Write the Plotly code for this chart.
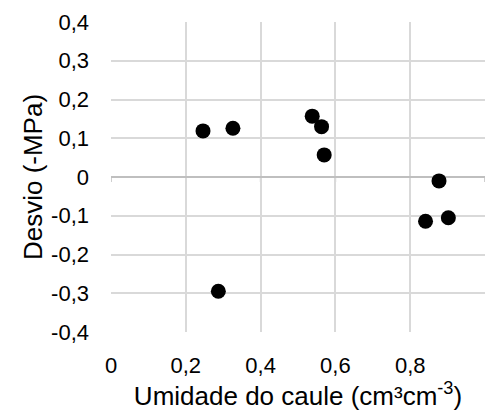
import plotly.graph_objects as go

# Data
umidade = [0.246, 0.287, 0.326, 0.538, 0.563, 0.570, 0.841, 0.877, 0.902]
desvio = [0.119, -0.295, 0.126, 0.157, 0.130, 0.057, -0.114, -0.010, -0.105]

x_tickvals = [0, 0.2, 0.4, 0.6, 0.8, 1.0]
x_ticktext = ["0", "0,2", "0,4", "0,6", "0,8", "1"]
y_tickvals = [-0.4, -0.3, -0.2, -0.1, 0, 0.1, 0.2, 0.3, 0.4]
y_ticktext = ["-0,4", "-0,3", "-0,2", "-0,1", "0", "0,1", "0,2", "0,3", "0,4"]

font = "Liberation Sans, Arial, sans-serif"

fig = go.Figure()
fig.add_trace(go.Scatter(
    x=umidade, y=desvio, mode="markers",
    marker=dict(color="black", size=15, line=dict(width=0)),
    showlegend=False,
))

# small tick marks hanging below the zero line (horizontal axis crossing)
for xv in x_tickvals:
    fig.add_shape(type="line", xref="x", yref="y", x0=xv, x1=xv,
                  ysizemode="pixel", yanchor=0, y0=0, y1=-5,
                  line=dict(color="#bfbfbf", width=1.5), layer="below")

fig.update_layout(
    width=490, height=412,
    margin=dict(l=111, r=5, t=22, b=80),
    plot_bgcolor="white", paper_bgcolor="white",
    font=dict(family=font, color="#000000", size=22),
    xaxis=dict(
        range=[0, 1], tickvals=x_tickvals, ticktext=x_ticktext,
        showgrid=True, gridcolor="#d9d9d9", gridwidth=1.5,
        zeroline=False, showline=False,
        ticks="", ticklabelstandoff=18,
        tickfont=dict(size=22),
        title=dict(text="Umidade do caule (cm³cm<sup>-3</sup>)", font=dict(size=26), standoff=6),
    ),
    yaxis=dict(
        range=[-0.4, 0.4], tickvals=y_tickvals, ticktext=y_ticktext,
        showgrid=True, gridcolor="#d9d9d9", gridwidth=1.5,
        zeroline=True, zerolinecolor="#bfbfbf", zerolinewidth=1.5,
        showline=False, ticks="", ticklabelstandoff=21,
        tickfont=dict(size=22),
        title=dict(text="Desvio (-MPa)", font=dict(size=26), standoff=0),
    ),
)

fig.write_html("out.html")
